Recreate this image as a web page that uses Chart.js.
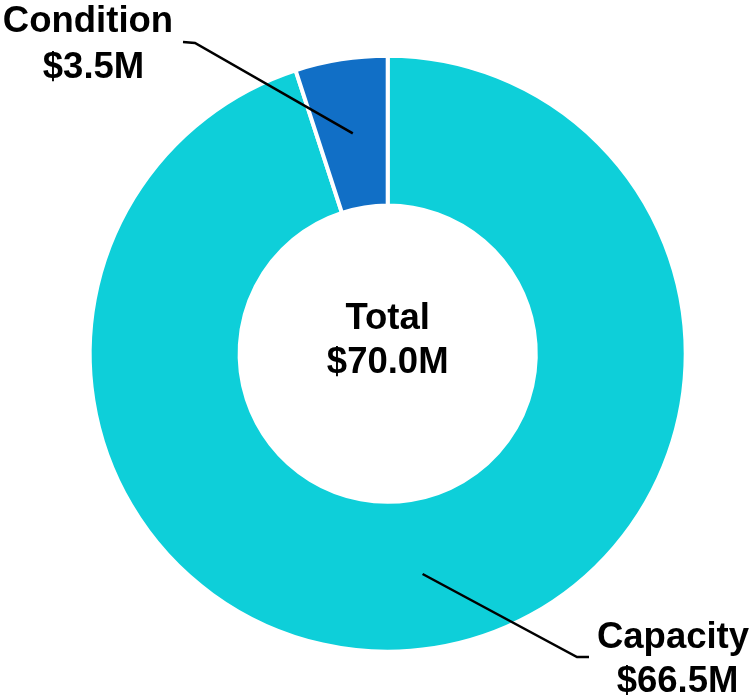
<!DOCTYPE html>
<html>
<head>
<meta charset="utf-8">
<script src="https://cdn.jsdelivr.net/npm/chart.js@4.4.1/dist/chart.umd.min.js"></script>
<style>
  html, body { margin: 0; padding: 0; background: #fff; }
  #wrap { width: 753px; height: 695px; }
</style>
</head>
<body>
<div id="wrap"><canvas id="fundingChart" width="753" height="695"></canvas></div>
<script>
const categories = ['Capacity', 'Condition'];
const amounts = [66.5, 3.5]; // $M
const sliceColors = ['#0ecfd9', '#116fc6'];

const money = (v) => '$' + v.toFixed(1) + 'M';
const labelFont = 'bold 36.5px "Liberation Sans", Arial, sans-serif';

// callout layout per slice: elbow of the leader, end of the short tail, text line anchors
const callouts = [
  { elbow: [577, 657], tail: [589, 657], lines: [[673, 648], [677.5, 692]] },
  { elbow: [195, 43], tail: [183, 42], lines: [[88, 32], [93.5, 78]] }
];

const calloutPlugin = {
  id: 'callouts',
  afterDatasetsDraw(chart) {
    const ctx = chart.ctx;
    const arcs = chart.getDatasetMeta(0).data;
    const total = amounts.reduce((a, b) => a + b, 0);
    ctx.save();
    ctx.fillStyle = '#000';
    ctx.strokeStyle = '#000';
    ctx.lineWidth = 2.5;
    ctx.font = labelFont;
    ctx.textAlign = 'center';
    ctx.textBaseline = 'alphabetic';

    arcs.forEach((arc, i) => {
      const c = callouts[i];
      const p = arc.tooltipPosition();
      ctx.beginPath();
      ctx.moveTo(p.x, p.y);
      ctx.lineTo(c.elbow[0], c.elbow[1]);
      ctx.lineTo(c.tail[0], c.tail[1]);
      ctx.stroke();
      ctx.fillText(categories[i], c.lines[0][0], c.lines[0][1]);
      ctx.fillText(money(amounts[i]), c.lines[1][0], c.lines[1][1]);
    });

    const cx = arcs[0].x, cy = arcs[0].y;
    ctx.fillText('Total', cx, cy - 25);
    ctx.fillText(money(total), cx, cy + 19);
    ctx.restore();
  }
};

new Chart(document.getElementById('fundingChart'), {
  type: 'doughnut',
  data: {
    labels: categories,
    datasets: [{
      data: amounts,
      backgroundColor: sliceColors,
      borderColor: '#ffffff',
      borderWidth: 4,
      cutout: '49.7%'
    }]
  },
  options: {
    responsive: false,
    animation: false,
    layout: { padding: { left: 87.7, right: 65.3, top: 53.7, bottom: 41.3 } },
    plugins: { legend: { display: false }, tooltip: { enabled: false } }
  },
  plugins: [calloutPlugin]
});
</script>
</body>
</html>
